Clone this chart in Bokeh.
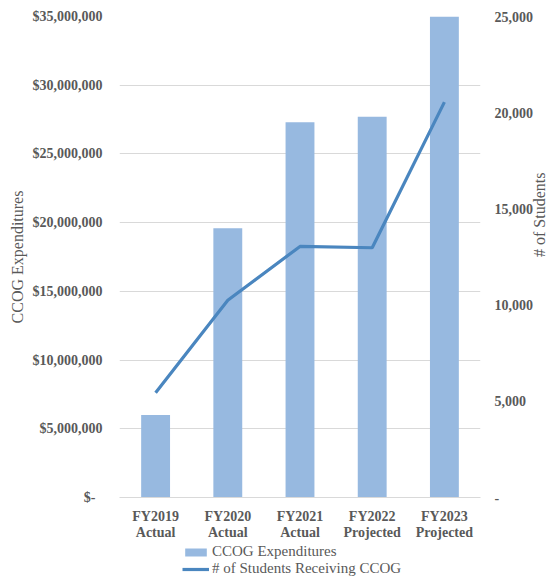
import math
from bokeh.plotting import figure
from bokeh.layouts import column
from bokeh.models import Range1d, LinearAxis, FixedTicker, Legend, LegendItem, FactorRange
from bokeh.embed import file_html
from bokeh.resources import INLINE

# ---- data ----
categories = ["FY2019\nActual", "FY2020\nActual", "FY2021\nActual",
              "FY2022\nProjected", "FY2023\nProjected"]
expenditures = [6_000_000, 19_600_000, 27_300_000, 27_700_000, 35_000_000]
students = [5_450, 10_250, 13_050, 12_980, 20_550]

left_ticks = [0, 5_000_000, 10_000_000, 15_000_000, 20_000_000, 25_000_000, 30_000_000, 35_000_000]
left_tick_labels = ["$-\u00a0\u00a0", "$5,000,000", "$10,000,000", "$15,000,000", "$20,000,000",
                    "$25,000,000", "$30,000,000", "$35,000,000"]
right_ticks = [0, 5_000, 10_000, 15_000, 20_000, 25_000]
right_tick_labels = ["-", "5,000", "10,000", "15,000", "20,000", "25,000"]

bar_label = "CCOG Expenditures"
line_label = "# of Students Receiving CCOG"

FONT = "Liberation Serif"
TXT = "#595959"
BAR = "#97B9E0"
LINE = "#4A86BF"
GRID = "#D9D9D9"

W, H1, H2 = 559, 543, 34
p = figure(width=W, height=H1,
           x_range=FactorRange(*categories),
           y_range=Range1d(0, 35_000_000),
           output_backend="svg", toolbar_location=None,
           min_border_left=119, min_border_right=77,
           min_border_top=16, min_border_bottom=46)
p.extra_y_ranges = {"students": Range1d(0, 25_000)}

p.vbar(x=categories, top=expenditures, width=0.4, fill_color=BAR, line_color=None)
p.line(x=categories, y=students, y_range_name="students", line_color=LINE, line_width=3.2)

# left axis
ly = p.yaxis[0]
ly.ticker = FixedTicker(ticks=left_ticks)
ly.major_label_overrides = dict(zip(left_ticks, left_tick_labels))
ly.axis_label = "CCOG Expenditures"
ly.axis_label_standoff = 4
ly.major_label_standoff = 17

# right axis
ry = LinearAxis(y_range_name="students", ticker=FixedTicker(ticks=right_ticks),
                major_label_overrides=dict(zip(right_ticks, right_tick_labels)),
                axis_label="# of Students")
ry.major_label_standoff = 14
ry.axis_label_standoff = 3
try:
    ry.axis_label_orientation = math.pi / 2
except Exception:
    pass
p.add_layout(ry, "right")

for ax in (ly, ry):
    ax.axis_line_color = None
    ax.major_tick_line_color = None
    ax.minor_tick_line_color = None
    ax.major_tick_out = 0
    ax.major_tick_in = 0
    ax.minor_tick_out = 0
    ax.minor_tick_in = 0
    ax.major_label_text_font = FONT
    ax.major_label_text_font_size = "14px"
    ax.major_label_text_font_style = "bold"
    ax.major_label_text_color = TXT
    ax.axis_label_text_font = FONT
    ax.axis_label_text_font_size = "16px"
    ax.axis_label_text_font_style = "normal"
    ax.axis_label_text_color = TXT

xa = p.xaxis[0]
xa.axis_line_color = GRID
xa.axis_line_width = 1
xa.major_tick_line_color = None
xa.minor_tick_line_color = None
xa.major_tick_out = 0
xa.major_tick_in = 0
xa.major_label_text_font = FONT
xa.major_label_text_font_size = "14px"
xa.major_label_text_font_style = "bold"
xa.major_label_text_color = TXT
xa.major_label_text_line_height = 1.1
xa.major_label_standoff = 11

p.xgrid.grid_line_color = None
p.ygrid.grid_line_color = GRID
p.ygrid.ticker = FixedTicker(ticks=left_ticks)
p.outline_line_color = None

# ---- legend strip (its own small figure, same series, glyphs hidden) ----
lf = figure(width=W, height=H2, x_range=FactorRange(*categories), y_range=Range1d(0, 1),
            output_backend="svg", toolbar_location=None,
            x_axis_location=None, y_axis_location=None,
            min_border_left=0, min_border_right=0, min_border_top=0, min_border_bottom=0)
lf.grid.grid_line_color = None
lf.outline_line_color = None
lbars = lf.vbar(x=categories, top=expenditures, width=0.4, fill_color=BAR, line_color=None, visible=False)
lline = lf.line(x=categories, y=students, line_color=LINE, line_width=3.2, visible=False)

legend = Legend(items=[LegendItem(label=bar_label, renderers=[lbars]),
                       LegendItem(label=line_label, renderers=[lline])],
                location=(63, 0), orientation="vertical",
                border_line_color=None, background_fill_alpha=0,
                inactive_fill_alpha=0,
                padding=0, margin=0, spacing=0,
                glyph_width=27, glyph_height=10, label_standoff=3, label_height=12,
                label_text_font=FONT, label_text_font_size="15px", label_text_color=TXT)
lf.add_layout(legend)

layout = column(p, lf, spacing=0)
open("out.html", "w").write(file_html(layout, INLINE))
